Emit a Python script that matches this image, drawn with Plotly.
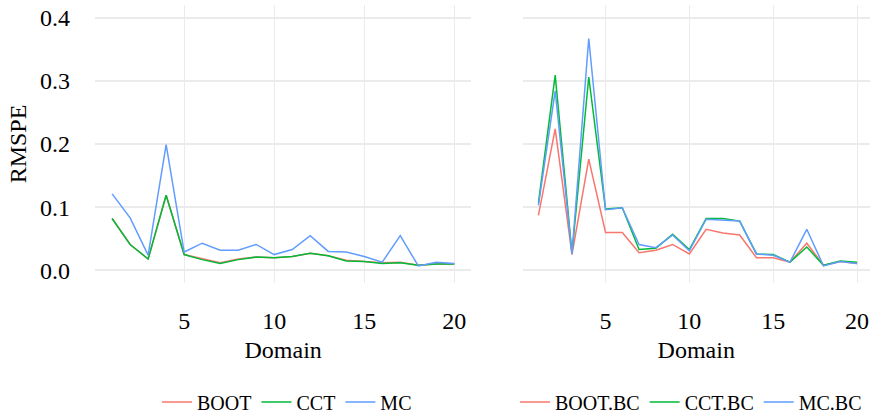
import plotly.graph_objects as go

# Small-area estimation: RMSPE per domain for three MSE estimators
domain = list(range(1, 21))

boot = [0.082, 0.041, 0.018, 0.119, 0.025, 0.018, 0.012, 0.018, 0.021, 0.020,
        0.022, 0.027, 0.023, 0.016, 0.014, 0.012, 0.013, 0.008, 0.010, 0.010]
cct = [0.082, 0.041, 0.018, 0.119, 0.025, 0.017, 0.011, 0.017, 0.021, 0.020,
       0.022, 0.027, 0.023, 0.015, 0.014, 0.011, 0.012, 0.008, 0.010, 0.010]
mc = [0.121, 0.083, 0.024, 0.199, 0.029, 0.043, 0.032, 0.032, 0.041, 0.025,
      0.033, 0.055, 0.030, 0.029, 0.022, 0.013, 0.055, 0.007, 0.013, 0.011]

boot_bc = [0.087, 0.224, 0.025, 0.176, 0.060, 0.060, 0.028, 0.032, 0.041, 0.026,
           0.065, 0.059, 0.056, 0.020, 0.020, 0.013, 0.043, 0.008, 0.014, 0.011]
cct_bc = [0.107, 0.309, 0.027, 0.306, 0.097, 0.099, 0.033, 0.035, 0.057, 0.033,
          0.082, 0.082, 0.078, 0.026, 0.025, 0.013, 0.037, 0.008, 0.015, 0.013]
mc_bc = [0.103, 0.284, 0.026, 0.367, 0.096, 0.099, 0.041, 0.036, 0.056, 0.031,
         0.081, 0.080, 0.078, 0.026, 0.024, 0.013, 0.065, 0.007, 0.014, 0.011]

x_ticks = [5, 10, 15, 20]
y_ticks = [0.0, 0.1, 0.2, 0.3, 0.4]
y_tick_text = ["0.0", "0.1", "0.2", "0.3", "0.4"]

RED, GREEN, BLUE = "#F8766D", "#00BA38", "#619CFF"
FONT = "'Liberation Serif', 'Times New Roman', Times, 'DejaVu Serif', serif"
LW = 1.5

fig = go.Figure()

left = [("BOOT", boot, RED), ("CCT", cct, GREEN), ("MC", mc, BLUE)]
right = [("BOOT.BC", boot_bc, RED), ("CCT.BC", cct_bc, GREEN), ("MC.BC", mc_bc, BLUE)]

for name, vals, col in left:
    fig.add_trace(go.Scatter(x=domain, y=vals, mode="lines", name=name,
                             line=dict(color=col, width=LW),
                             xaxis="x", yaxis="y", legend="legend"))
for name, vals, col in right:
    fig.add_trace(go.Scatter(x=domain, y=vals, mode="lines", name=name,
                             line=dict(color=col, width=LW),
                             xaxis="x2", yaxis="y2", legend="legend2"))

grid = "#EBEBEB"
xcommon = dict(tickmode="array", tickvals=x_ticks, ticktext=[str(v) for v in x_ticks],
               showgrid=True, gridcolor=grid, gridwidth=1, zeroline=False,
               showline=False, ticks="", tickfont=dict(family=FONT, size=24, color="black"),
               ticklabelstandoff=21,
               title=dict(text="Domain", font=dict(family=FONT, size=24, color="black"),
                          standoff=8))
ycommon = dict(tickmode="array", tickvals=y_ticks, ticktext=y_tick_text,
               range=[-0.02, 0.42], showgrid=True, gridcolor=grid, gridwidth=1.5,
               zeroline=False, showline=False, ticks="",
               domain=[1 - 283 / 414, 1 - 5 / 414])

fig.update_layout(
    width=870, height=414,
    margin=dict(l=0, r=0, t=0, b=0, autoexpand=False),
    plot_bgcolor="white", paper_bgcolor="white",
    font=dict(family=FONT, color="black"),
    xaxis=dict(xcommon, domain=[95 / 870, 471.4 / 870], range=[0.05, 20.95], anchor="y"),
    xaxis2=dict(xcommon, domain=[522.5 / 870, 1.0], range=[0.05, 20.77], anchor="y2"),
    yaxis=dict(ycommon, anchor="x", showticklabels=True,
               tickfont=dict(family=FONT, size=24, color="black"),
               ticklabelstandoff=24,
               title=dict(text="RMSPE", font=dict(family=FONT, size=24, color="black"),
                          standoff=6)),
    yaxis2=dict(ycommon, anchor="x2", matches="y", showticklabels=False),
    legend=dict(orientation="h", x=287 / 870, y=1 - 402 / 414, xanchor="center",
                yanchor="middle", font=dict(family=FONT, size=20, color="black"),
                bgcolor="rgba(0,0,0,0)", itemwidth=30, tracegroupgap=0),
    legend2=dict(orientation="h", x=867 / 870, y=1 - 402 / 414, xanchor="right",
                 yanchor="middle", font=dict(family=FONT, size=20, color="black"),
                 bgcolor="rgba(0,0,0,0)", itemwidth=30, tracegroupgap=0),
)

fig.write_html("out.html")
